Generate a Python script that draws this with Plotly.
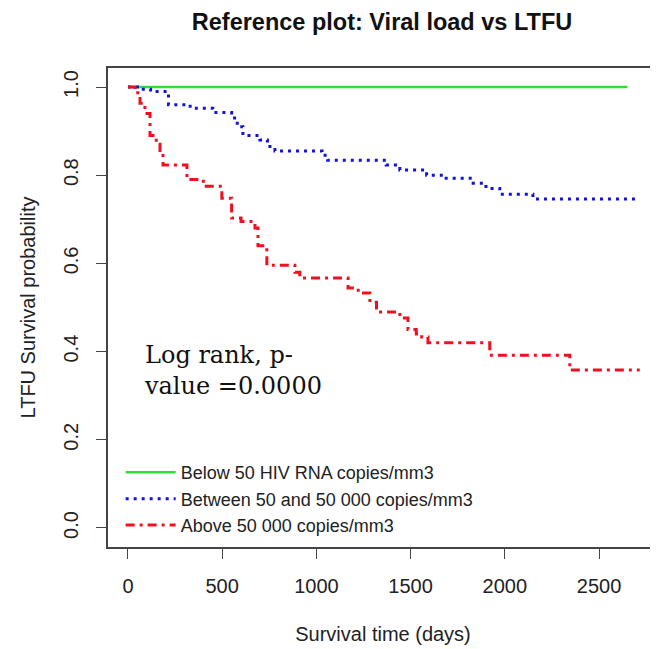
import plotly.graph_objects as go

# ---- data ----
green_t = [0, 2650]
green_s = [1.0, 1.0]

blue_t = [0, 60, 120, 215, 330, 450, 550, 580, 610, 700, 740, 780, 1030, 1060,
          1370, 1443, 1585, 1672, 1832, 1900, 1973, 2149, 2710]
blue_s = [1.0, 0.995, 0.99, 0.96, 0.952, 0.942, 0.93, 0.91, 0.89, 0.88, 0.865, 0.855,
          0.845, 0.834, 0.823, 0.812, 0.800, 0.793, 0.782, 0.77, 0.757, 0.746, 0.746]

red_t = [0, 37, 64, 90, 117, 150, 170, 186, 313, 400, 498, 550, 600, 674, 690, 737,
         886, 912, 1168, 1222, 1284, 1319, 1443, 1486, 1530, 1559, 1592, 1920, 2345, 2716]
red_s = [1.0, 0.987, 0.963, 0.94, 0.89, 0.87, 0.85, 0.823, 0.79, 0.775, 0.748, 0.703,
         0.695, 0.68, 0.64, 0.596, 0.58, 0.567, 0.544, 0.533, 0.512, 0.49, 0.476, 0.45,
         0.44, 0.433, 0.42, 0.392, 0.358, 0.358]

series_names = ["Below 50 HIV RNA copies/mm3",
                "Between 50 and 50 000 copies/mm3",
                "Above 50 000 copies/mm3"]

x_ticks = [0, 500, 1000, 1500, 2000, 2500]
y_ticks = [0.0, 0.2, 0.4, 0.6, 0.8, 1.0]

annot_text = "Log rank, p-<br>value =0.0000"

# ---- figure ----
fig = go.Figure()
fig.add_trace(go.Scatter(x=green_t, y=green_s, mode="lines", line_shape="hv",
                         name=series_names[0],
                         line=dict(color="#33dd33", width=2.5)))
fig.add_trace(go.Scatter(x=blue_t, y=blue_s, mode="lines", line_shape="hv",
                         name=series_names[1],
                         line=dict(color="#1010e0", width=3, dash="3px,5px")))
fig.add_trace(go.Scatter(x=red_t, y=red_s, mode="lines", line_shape="hv",
                         name=series_names[2],
                         line=dict(color="#ee1020", width=3, dash="9px,5px,3px,5px")))

font_sans = "Liberation Sans, Arial, sans-serif"

# page body has an 8px margin, so the figure is 650x641 and offset by 8px
fig.update_layout(
    width=650, height=641,
    margin=dict(l=100, r=0, t=60, b=102, autoexpand=False),
    paper_bgcolor="white", plot_bgcolor="white",
    font=dict(family=font_sans, size=20, color="#222"),
    title=dict(text="<b>Reference plot: Viral load vs LTFU</b>",
               x=374 / 650, xanchor="center", xref="container",
               y=1 - 6 / 641, yanchor="top", yref="container",
               font=dict(family=font_sans, size=23.5, color="#111")),
    showlegend=True,
    legend=dict(x=0.023, y=0.194, xanchor="left", yanchor="top",
                bgcolor="rgba(0,0,0,0)", borderwidth=0, itemwidth=50,
                font=dict(family=font_sans, size=18, color="#222"),
                tracegroupgap=0),
    annotations=[dict(x=75, y=0.358, xref="x", yref="y", text=annot_text,
                      showarrow=False, xanchor="left", yanchor="middle", align="left",
                      font=dict(family="DejaVu Serif, serif", size=24, color="#111"))],
)

fig.update_xaxes(range=[-106, 2813], tickvals=x_ticks, ticks="outside", ticklen=10,
                 tickwidth=1.2, tickcolor="#444", showgrid=False, zeroline=False,
                 showline=True, linecolor="#444", linewidth=1.5, mirror=True,
                 ticklabelstandoff=10, automargin=False,
                 title=dict(text="Survival time (days)", standoff=31,
                            font=dict(size=20)))
fig.update_yaxes(range=[-0.0431, 1.0431], tickvals=y_ticks, tickformat=".1f",
                 tickangle=-90, ticks="outside", ticklen=10, tickwidth=1.2,
                 tickcolor="#444", showgrid=False, zeroline=False,
                 showline=True, linecolor="#444", linewidth=1.5, mirror=True,
                 ticklabelstandoff=10, automargin=False,
                 title=dict(text="LTFU Survival probability", standoff=19,
                            font=dict(size=20)))

fig.write_html("out.html")
